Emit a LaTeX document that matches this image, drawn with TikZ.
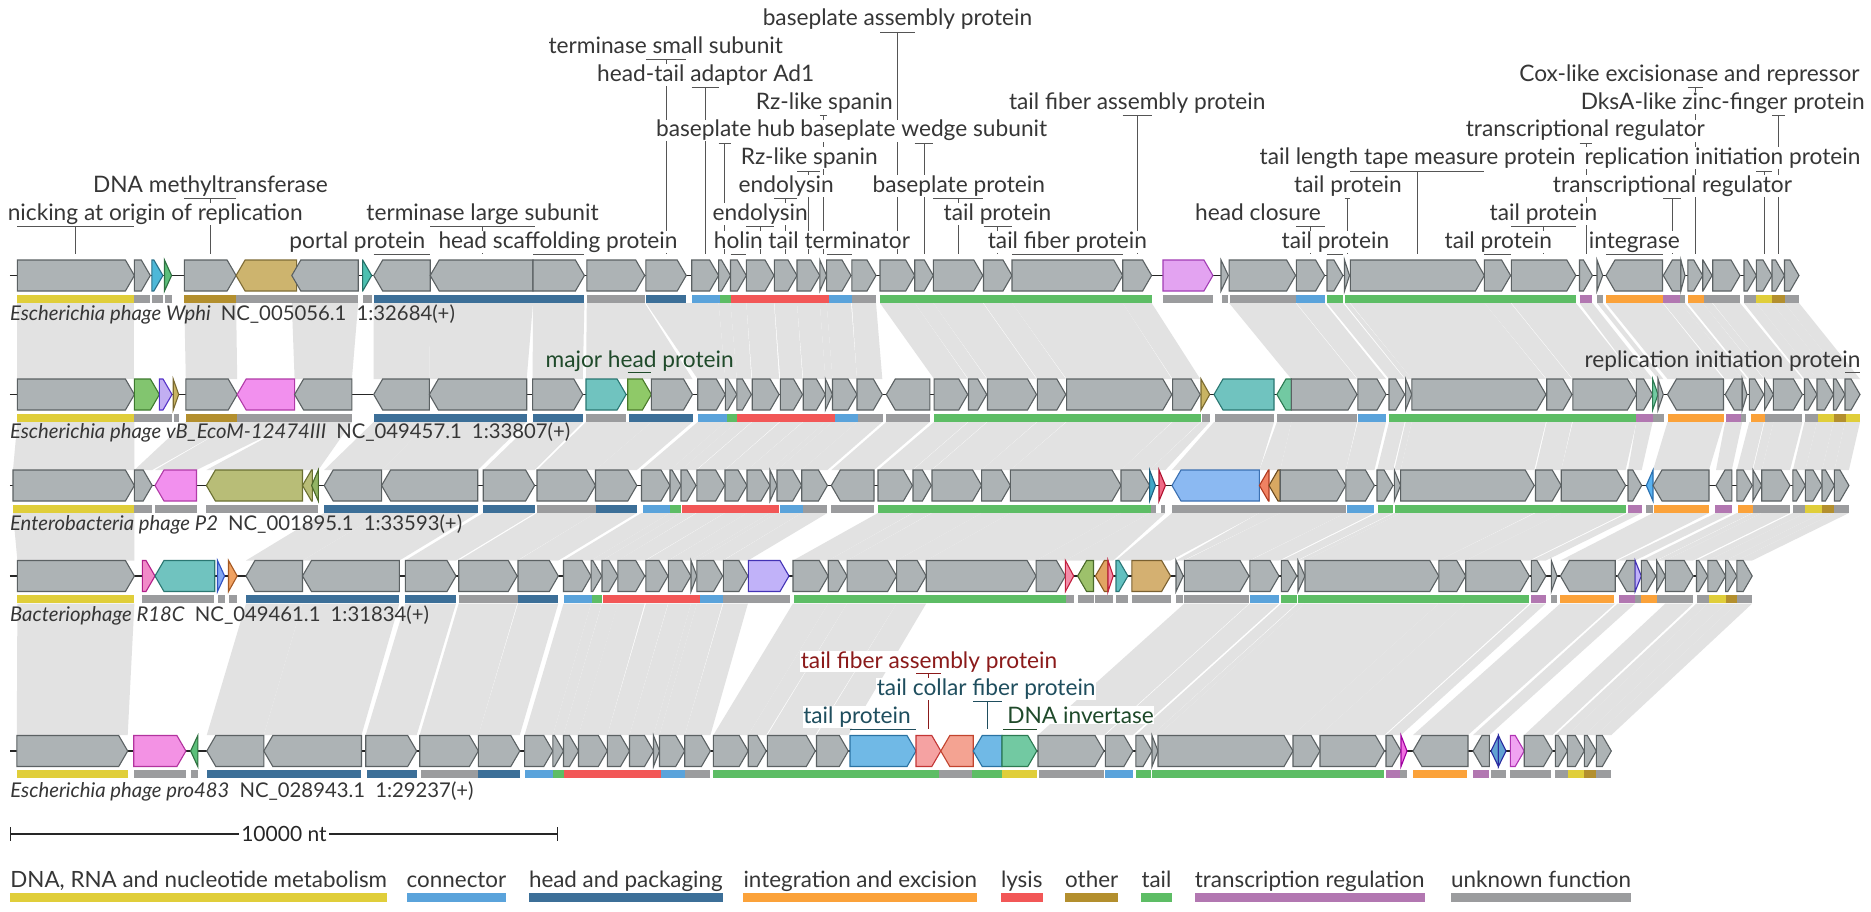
\documentclass[tikz,border=0pt]{standalone}
\usepackage{fontspec}
\setmainfont{Lato}
\usetikzlibrary{calc}
\pgfdeclarelayer{bands}
\pgfdeclarelayer{lines}
\pgfsetlayers{bands,lines,main}
\definecolor{gfill}{HTML}{ADB3B5}
\definecolor{gline}{HTML}{5B6163}
\definecolor{bandc}{HTML}{E2E2E2}
\definecolor{txt}{HTML}{363636}
\definecolor{lnc}{HTML}{555555}
\definecolor{cDNA}{HTML}{E0CE3A}
\definecolor{cCon}{HTML}{5AA3DB}
\definecolor{cHead}{HTML}{3C6F98}
\definecolor{cInt}{HTML}{FBA23A}
\definecolor{cLys}{HTML}{F25757}
\definecolor{cOth}{HTML}{B38F2E}
\definecolor{cTail}{HTML}{5DBD65}
\definecolor{cTrs}{HTML}{B277B1}
\definecolor{cUnk}{HTML}{9B9C9E}
\definecolor{tRed}{HTML}{8B1A1A}
\definecolor{tSlate}{HTML}{1F4E5E}
\definecolor{tGrn}{HTML}{1F4A2A}
\newcommand\labfont{\fontsize{22.7}{27}\selectfont}
\newcommand\spfont{\fontsize{20.3}{24}\selectfont}
\newcommand\lgfont{\fontsize{22.4}{27}\selectfont}
\newcommand\gstyle[3]{\definecolor{#1F}{HTML}{#2}\definecolor{#1D}{HTML}{#3}%
  \tikzset{#1/.style={fill=#1F,draw=#1D}}}
\gstyle{tanG}{CDB46E}{7E6C36}
\gstyle{cyanG}{4DB8D8}{2A6F88}
\gstyle{grnG}{5CBF7A}{2E7040}
\gstyle{tealG}{4CC0B0}{257068}
\gstyle{violG}{E3A3F1}{A23DB5}
\gstyle{gtwoG}{82C56F}{3D7A2E}
\gstyle{lavG}{C2AEF2}{5533C8}
\gstyle{khakiG}{C9B463}{7A6A30}
\gstyle{pinkG}{F290EE}{B13BA8}
\gstyle{tealtG}{70C3BF}{2A7772}
\gstyle{greentG}{8FC968}{4A7A2A}
\gstyle{mintG}{72C9A2}{2C7A52}
\gstyle{olivG}{B8BD77}{6A7032}
\gstyle{olivtG}{93B565}{4C6A2A}
\gstyle{tblG}{3FA8C8}{1E6080}
\gstyle{redG}{F06A86}{B0102E}
\gstyle{lblG}{8BB9F2}{3B70B2}
\gstyle{rorG}{F08262}{B03A20}
\gstyle{tantG}{D8A862}{6A4A20}
\gstyle{lbltG}{5AB2F0}{2A70B0}
\gstyle{pinkfG}{F18AC8}{B2208A}
\gstyle{bluefG}{82A8F2}{3050C2}
\gstyle{orG}{F0A262}{A55822}
\gstyle{lavfG}{C1B2F9}{4332B5}
\gstyle{pkrG}{F38CA8}{C2203F}
\gstyle{grnfG}{9DC16B}{4B6B2B}
\gstyle{orfG}{E1A463}{8A5A22}
\gstyle{tealfG}{62C1C1}{2A7777}
\gstyle{tanfG}{D4B071}{7A6030}
\gstyle{pinkvG}{F392E4}{B2339E}
\gstyle{lblvG}{70B9E6}{2A72A2}
\gstyle{salG}{F5A2A2}{C33636}
\gstyle{saltG}{F4A392}{C2442E}
\gstyle{magG}{F070E0}{A000A0}
\gstyle{diaG}{62A2D2}{2A2AA0}
\gstyle{pinksG}{F0A3F1}{B033B3}
\tikzset{
  gene/.style={fill=gfill, draw=gline, line width=1.1pt, line join=miter},
  labl/.style={draw=lnc, line width=0.9pt},
  labt/.style={fill=white, inner sep=0.6pt, text=txt, font=\labfont},
  spc/.style={inner sep=0pt, text=txt, font=\spfont},
  lgt/.style={inner sep=0pt, text=txt, font=\lgfont, anchor=base west},
  bbone/.style={draw=black!85, line width=1.2pt},
}
\newcommand\yc{0}
\newcommand\gf[3][]{\pgfmathsetmacro\gs{max(#2,#3-9)}%
  \filldraw[gene,#1] (#2,\yc-15.5) -- (\gs,\yc-15.5) -- (#3,\yc) -- (\gs,\yc+15.5) -- (#2,\yc+15.5) -- cycle;}
\newcommand\gr[3][]{\pgfmathsetmacro\gs{min(#3,#2+9)}%
  \filldraw[gene,#1] (#3,\yc-15.5) -- (\gs,\yc-15.5) -- (#2,\yc) -- (\gs,\yc+15.5) -- (#3,\yc+15.5) -- cycle;}
\newcommand\gb[3]{\fill[#1] (#2,\yc+19.2) rectangle (#3,\yc+27.2);}
\newcommand\bnd[6]{\fill[bandc] (#1,#5) -- (#2,#5) -- (#4,#6) -- (#3,#6) -- cycle;}
\newcommand\bA[4]{\bnd{#1}{#2}{#3}{#4}{303}{379}}
\newcommand\bB[4]{\bnd{#1}{#2}{#3}{#4}{422}{470}}
\newcommand\bC[4]{\bnd{#1}{#2}{#3}{#4}{513}{560.5}}
\newcommand\bD[4]{\bnd{#1}{#2}{#3}{#4}{603.5}{735}}
\newcounter{labc}
\newcommand\lab[5]{\stepcounter{labc}%
  \pgfmathsetmacro\lb{248.2-(#1-1)*27.8}%
  \pgfmathsetmacro\lly{\lb+6.2}%
  \pgfmathsetmacro\lc{(#3+#4)/2}%
  \begin{pgfonlayer}{lines}
  \draw[labl] (#3,\lly) -- (#4,\lly) (\lc,\lly) -- (\lc,254.3);
  \end{pgfonlayer}
  \node[labt,anchor=base] (lab\arabic{labc}) at (#2,\lb) {#5};}
\begin{document}
\begin{tikzpicture}[x=1pt,y=-1pt]
\useasboundingbox (0,0) rectangle (1871,912);
% ---------------- bands ----------------
\begin{pgfonlayer}{bands}
\fill[white] (0,0) rectangle (1871,912);
\bA{17.4}{134.4}{17.4}{134.4}
\bA{184.3}{236.1}{185.8}{237.2}
\bA{291.8}{358.2}{294.6}{351.9}
\bA{373.7}{430.2}{373.7}{429.4}
\bA{430.2}{533}{429.4}{526.7}
\bA{533}{584.4}{532.6}{582.8}
\bA{586.8}{644.7}{586}{692.5}
\bA{645.9}{718.6}{697.7}{725.3}
\bA{718.6}{730.5}{725.3}{736.8}
\bA{730.5}{746.3}{736.8}{751.4}
\bA{746.3}{774}{752.2}{779.1}
\bA{774.4}{797}{780.3}{802.5}
\bA{797}{819.8}{803.2}{825.4}
\bA{819.8}{826.6}{825.4}{832.5}
\bA{826.6}{851}{832.5}{857}
\bA{851.9}{876}{857}{882.3}
\bA{880}{914.7}{934.1}{967.7}
\bA{914.7}{933.3}{968.5}{986.7}
\bA{933.3}{982.8}{987.5}{1036.5}
\bA{983.5}{1012}{1037.3}{1065.8}
\bA{1012}{1122.7}{1066.6}{1171.8}
\bA{1122.7}{1151.6}{1172.6}{1200.2}
\bA{1229.1}{1295.6}{1291.4}{1357}
\bA{1296.4}{1324.6}{1357.8}{1386}
\bA{1327}{1342.9}{1389}{1404.7}
\bA{1344.5}{1349.5}{1405.6}{1411.8}
\bA{1350.3}{1484.4}{1411.8}{1545.9}
\bA{1484.4}{1510.6}{1546.7}{1572}
\bA{1511.4}{1575.8}{1572.8}{1636.4}
\bA{1579.5}{1592.4}{1636.4}{1652.6}
\bA{1597}{1602.7}{1658}{1663.3}
\bA{1606}{1662.5}{1667.5}{1723.5}
\bA{1663.3}{1680.8}{1725.2}{1742.2}
\bA{1680.8}{1685}{1742.2}{1747}
\bA{1687.8}{1702.7}{1749.3}{1763.8}
\bA{1702.7}{1712}{1764.6}{1773.4}
\bA{1712.7}{1740}{1773.4}{1802.4}
\bA{1744}{1756.3}{1804.5}{1817}
\bA{1756.3}{1772}{1817}{1833.5}
\bA{1772}{1784.5}{1833.5}{1845}
\bA{1784.5}{1799}{1845}{1860}
% 2 -> 3
\bB{17.4}{134.4}{13}{134.4}
\bB{185.8}{237.2}{134.4}{152.2}
\bB{237.2}{294.6}{155}{196.5}
\bB{294.6}{351.9}{206.4}{318.3}
\bB{373.7}{429.4}{324.2}{381.6}
\bB{429.4}{526.7}{381.6}{477.7}
\bB{532.6}{582.8}{483.2}{534.6}
\bB{586}{651.4}{537}{595.5}
\bB{651.4}{692.5}{595.5}{636.8}
\bB{697.7}{725.3}{641.5}{670}
\bB{725.3}{736.8}{670}{681}
\bB{736.8}{751.4}{681}{696}
\bB{752.2}{779.1}{696.9}{724.6}
\bB{780.3}{802.5}{725}{747}
\bB{803.2}{825.4}{747}{770}
\bB{825.4}{832.5}{770}{777}
\bB{832.5}{857}{777}{801.7}
\bB{857}{882.3}{801.7}{827.4}
\bB{886.3}{929.8}{831.3}{874}
\bB{934.1}{967.7}{878}{912.4}
\bB{968.5}{986.7}{913}{931.4}
\bB{987.5}{1036.5}{932}{981.6}
\bB{1037.3}{1065.8}{981.6}{1010.4}
\bB{1066.6}{1171.8}{1010.4}{1121}
\bB{1172.6}{1200.2}{1121}{1149.6}
\bB{1201}{1209.7}{1149.6}{1165.4}
\bB{1214}{1274}{1172}{1259.4}
\bB{1276.9}{1291.4}{1259.4}{1280.2}
\bB{1291.4}{1357}{1280.2}{1345.8}
\bB{1357.8}{1386}{1345.8}{1374.4}
\bB{1389}{1404.7}{1377}{1393}
\bB{1405.6}{1411.8}{1394.3}{1400.6}
\bB{1411.8}{1545.9}{1400.6}{1534.2}
\bB{1546.7}{1572}{1535.5}{1561.2}
\bB{1572.8}{1636.4}{1561.2}{1625.6}
\bB{1636.4}{1652.6}{1628}{1641.7}
\bB{1667.5}{1723.5}{1653}{1709}
\bB{1725.2}{1742.2}{1716}{1731.8}
\bB{1749.3}{1763.8}{1736.8}{1752.2}
\bB{1764.6}{1773.4}{1753}{1761.7}
\bB{1773.4}{1802.4}{1761.7}{1790}
\bB{1804.5}{1817}{1792.9}{1805.3}
\bB{1817}{1833.5}{1805.3}{1822}
\bB{1833.5}{1845}{1822}{1834.4}
\bB{1845}{1860}{1834.4}{1848.9}
% 3 -> 4
\bC{13}{134.4}{17.4}{134.4}
\bC{324.2}{381.6}{246}{302.5}
\bC{381.6}{477.7}{302.5}{399.4}
\bC{483.2}{534.6}{405.3}{456}
\bC{537}{595.5}{458.7}{517.2}
\bC{595.5}{636.8}{518}{558.3}
\bC{641.5}{670}{563.5}{591.1}
\bC{670}{681}{591.1}{601.8}
\bC{681}{696}{602}{618}
\bC{696.9}{724.6}{617.8}{644.7}
\bC{725}{747}{645.9}{668}
\bC{747}{770}{668.4}{691}
\bC{770}{777}{691}{696.9}
\bC{777}{801.7}{696.9}{722.6}
\bC{801.7}{827.4}{723.4}{747.9}
\bC{878}{912.4}{793}{828.2}
\bC{913}{931.4}{828.2}{847.1}
\bC{932}{981.6}{847.1}{896.6}
\bC{981.6}{1010.4}{896.6}{926.2}
\bC{1010.4}{1121}{926.2}{1036.1}
\bC{1121}{1149.6}{1036.1}{1065.4}
\bC{1149.6}{1165.4}{1065.4}{1113.2}
\bC{1172}{1259.4}{1116}{1170.6}
\bC{1259.4}{1280.2}{1176}{1183.2}
\bC{1280.2}{1345.8}{1184.4}{1249}
\bC{1345.8}{1374.4}{1249.9}{1279}
\bC{1377}{1393}{1281.4}{1296.8}
\bC{1394.3}{1400.6}{1298}{1305}
\bC{1400.6}{1534.2}{1305}{1438.8}
\bC{1535.5}{1561.2}{1438.8}{1465.7}
\bC{1561.2}{1625.6}{1465.7}{1529.3}
\bC{1628}{1641.7}{1531.3}{1545.9}
\bC{1653}{1709}{1560.4}{1615.2}
\bC{1716}{1731.8}{1617.7}{1635.1}
\bC{1736.8}{1752.2}{1641.3}{1655.9}
\bC{1753}{1761.7}{1656.7}{1665.4}
\bC{1761.7}{1790}{1665.4}{1693.2}
\bC{1792.9}{1805.3}{1696.5}{1707.8}
\bC{1805.3}{1822}{1707.8}{1725.6}
\bC{1822}{1834.4}{1725.6}{1736.8}
\bC{1834.4}{1848.9}{1736.8}{1752.2}
% 4 -> 5
\bD{17.4}{134.4}{16.8}{127.7}
\bD{246}{302.5}{206.8}{263.8}
\bD{302.5}{399.4}{263.8}{361.5}
\bD{405.3}{456}{365.7}{416.7}
\bD{458.7}{517.2}{419.7}{478.4}
\bD{518}{558.3}{478.4}{519.8}
\bD{563.5}{591.1}{524.6}{552.8}
\bD{591.1}{601.8}{552.8}{563.5}
\bD{602}{618}{563.5}{578.5}
\bD{617.8}{644.7}{578.5}{607.3}
\bD{645.9}{668}{607.3}{629.5}
\bD{668.4}{691}{629.5}{653.5}
\bD{691}{696.9}{653.5}{659.5}
\bD{696.9}{722.6}{659.5}{684.7}
\bD{723.4}{747.9}{684.7}{710.4}
\bD{793}{828.2}{713.4}{748.2}
\bD{828.2}{847.1}{748.2}{766.2}
\bD{847.1}{896.6}{767.4}{815.3}
\bD{896.6}{926.2}{816.5}{848.3}
\bD{1184.4}{1249}{1038}{1104}
\bD{1249.9}{1279}{1105.3}{1132.9}
\bD{1281.4}{1296.8}{1135.9}{1152}
\bD{1298}{1305}{1152}{1158}
\bD{1305}{1438.8}{1158}{1293}
\bD{1438.8}{1465.7}{1293}{1320}
\bD{1465.7}{1529.3}{1320}{1384.4}
\bD{1531.3}{1545.9}{1386}{1401}
\bD{1560.4}{1615.2}{1413}{1468}
\bD{1617.7}{1635.1}{1473}{1489.4}
\bD{1665.4}{1693.2}{1524.2}{1552.5}
\bD{1696.5}{1707.8}{1555.4}{1567.4}
\bD{1707.8}{1725.6}{1567.4}{1584.3}
\bD{1725.6}{1736.8}{1584.3}{1596.3}
\bD{1736.8}{1752.2}{1596.3}{1611.3}
\end{pgfonlayer}
% ---------------- row 1 ----------------
\renewcommand\yc{275.5}
\draw[bbone] (9.9,\yc) -- (1799,\yc);
\gf{17.4}{134.4}\gf{134.4}{150.3}\gf[cyanG]{151.8}{162.9}\gf[grnG]{164.5}{171.6}
\gf{184.3}{236.1}\gr[tanG]{236.1}{296.6}\gr{291.8}{358.2}\gf[tealG]{362.6}{371.7}
\gr{373.7}{430.2}\gr{430.2}{533}\gf{533}{584.4}\gf{586.8}{644.7}\gf{645.9}{686.2}
\gf{691.7}{718.6}\gf{718.6}{730.5}\gf{730.5}{746.3}\gf{746.3}{774}\gf{774.4}{797}
\gf{797}{819.8}\gf{819.8}{826.6}\gf{826.6}{851}\gf{851.9}{876}\gf{880}{914.7}
\gf{914.7}{933.3}\gf{933.3}{982.8}\gf{983.5}{1012}\gf{1012}{1122.7}\gf{1122.7}{1151.6}
\gf[violG]{1163}{1212.9}\gf{1221}{1228.3}\gf{1229.1}{1295.6}\gf{1296.4}{1324.6}
\gf{1327}{1342.9}\gf{1344.5}{1349.5}\gf{1350.3}{1484.4}\gf{1484.4}{1510.6}
\gf{1511.4}{1575.8}\gf{1579.5}{1592.4}\gf{1597}{1602.7}\gr{1606}{1662.5}
\gr{1663.3}{1680.8}\gf{1680.8}{1685}\gf{1687.8}{1702.7}\gf{1702.7}{1712}
\gf{1712.7}{1740}\gf{1744}{1756.3}\gf{1756.3}{1772}\gf{1772}{1784.5}\gf{1784.5}{1799}
\gb{cDNA}{17.4}{134.4}\gb{cUnk}{134.4}{150.3}\gb{cUnk}{151.8}{162.9}\gb{cUnk}{164.5}{171.6}
\gb{cOth}{184.3}{236.1}\gb{cUnk}{236.1}{358.2}\gb{cUnk}{362.6}{371.7}\gb{cHead}{373.7}{584.4}
\gb{cUnk}{586.8}{644.7}\gb{cHead}{645.9}{686.2}\gb{cCon}{691.7}{719.8}\gb{cTail}{719.8}{730.5}
\gb{cLys}{730.5}{828.6}\gb{cCon}{828.6}{851.9}\gb{cUnk}{851.9}{876}\gb{cTail}{880}{1152.4}
\gb{cUnk}{1163}{1212.9}\gb{cUnk}{1222}{1228.3}\gb{cUnk}{1230.4}{1295.6}\gb{cCon}{1296.4}{1324.6}
\gb{cTail}{1327.1}{1342.9}\gb{cTail}{1344.5}{1575.8}\gb{cTrs}{1579.5}{1592.4}\gb{cUnk}{1597}{1602.7}
\gb{cInt}{1606}{1662.5}\gb{cTrs}{1663.3}{1680}\gb{cUnk}{1680}{1684.9}\gb{cInt}{1688.3}{1703.6}
\gb{cUnk}{1703.6}{1740}\gb{cUnk}{1744}{1756.3}\gb{cDNA}{1756.3}{1772}\gb{cOth}{1772}{1784.5}
\gb{cUnk}{1784.5}{1799}
% labels row 1
\lab{2}{155.2}{17.4}{134.4}{nicking at origin of replication}
\lab{3}{210.4}{184.3}{236.1}{DNA methyltransferase}
\lab{1}{357.4}{373.7}{430.2}{portal protein}
\lab{2}{482.5}{430.2}{535}{terminase large subunit}
\lab{1}{558}{533}{584.4}{head scaffolding protein}
\lab{8}{665.8}{645.9}{686.2}{terminase small subunit}
\lab{7}{705.7}{691.7}{718.6}{head-tail adaptor Ad1}
\lab{5}{725.6}{718.6}{730.5}{baseplate hub}
\lab{1}{738.4}{730.5}{746.3}{holin}
\lab{2}{760.2}{746.3}{774}{endolysin}
\lab{3}{786.2}{774.4}{797}{endolysin}
\lab{4}{809.2}{797}{819.8}{Rz-like spanin}
\lab{6}{824.4}{819.8}{826.6}{Rz-like spanin}
\lab{1}{839.2}{826.6}{851.9}{tail terminator}
\lab{9}{897.5}{880}{914.7}{baseplate assembly protein}
\lab{5}{923.8}{914.7}{933.3}{baseplate wedge subunit}
\lab{3}{958.8}{933.3}{982.8}{baseplate protein}
\lab{2}{997.4}{983.5}{1012}{tail protein}
\lab{1}{1067.4}{1012}{1122.7}{tail fiber protein}
\lab{6}{1137.2}{1122.7}{1151.6}{tail fiber assembly protein}
\lab{2}{1258}{1296.4}{1324.6}{head closure}
\lab{1}{1335.4}{1327}{1342.9}{tail protein}
\lab{3}{1347.9}{1344.5}{1349.5}{tail protein}
\lab{4}{1417.6}{1350.3}{1484.4}{tail length tape measure protein}
\lab{1}{1498.3}{1484.4}{1510.6}{tail protein}
\lab{2}{1543.4}{1511.4}{1575.8}{tail protein}
\lab{5}{1585.3}{1579.5}{1592.4}{transcriptional regulator}
\lab{1}{1634.3}{1606}{1662.5}{integrase}
\lab{3}{1672.5}{1663.3}{1680.8}{transcriptional regulator}
\lab{7}{1689.5}{1687.8}{1703.4}{Cox-like excisionase and repressor}
\lab{4}{1722.5}{1756.3}{1772}{replication initiation protein}
\lab{6}{1722.7}{1772}{1784.5}{DksA-like zinc-finger protein}
\node[spc,anchor=base west] (sp1) at (9.9,320.5) {\textit{Escherichia phage Wphi}\hspace{0.5em}NC\_005056.1\hspace{0.5em}1:32684(+)};
% ---------------- row 2 ----------------
\renewcommand\yc{394.5}
\draw[bbone] (9.9,\yc) -- (1860,\yc);
\gf{17.4}{134.4}\gf[gtwoG]{134.4}{159.4}\gf[lavG]{159.4}{172}\gf[khakiG]{173.2}{178.7}
\gf{185.8}{237.2}\gr[pinkG]{237.2}{294.6}\gr{294.6}{351.9}\gr{373.7}{429.4}\gr{429.4}{526.7}
\gf{532.6}{582.8}\gf[tealtG]{586}{626.1}\gf[greentG]{627.7}{651.4}\gf{651.4}{692.5}
\gf{697.7}{725.3}\gf{725.3}{736.8}\gf{736.8}{751.4}\gf{752.2}{779.1}\gf{780.3}{802.5}
\gf{803.2}{825.4}\gf{825.4}{832.5}\gf{832.5}{857}\gf{857}{882.3}\gr{886.3}{929.8}
\gf{934.1}{967.7}\gf{968.5}{986.7}\gf{987.5}{1036.5}\gf{1037.3}{1065.8}\gf{1066.6}{1171.8}
\gf{1172.6}{1200.2}\gf[khakiG]{1201}{1209.7}\gr[tealtG]{1214}{1274}\gr[mintG]{1276.9}{1291.4}
\gf{1291.4}{1357}\gf{1357.8}{1386}\gf{1389}{1404.7}\gf{1405.6}{1411.8}\gf{1411.8}{1545.9}
\gf{1546.7}{1572}\gf{1572.8}{1636.4}\gf{1636.4}{1652.6}\gf[mintG]{1652.6}{1658}\gf{1658}{1663.3}
\gr{1667.5}{1723.5}\gr{1725.2}{1742.2}\gf{1742.2}{1747}\gf{1749.3}{1763.8}\gf{1764.6}{1773.4}
\gf{1773.4}{1802.4}\gf{1804.5}{1817}\gf{1817}{1833.5}\gf{1833.5}{1845}\gf{1845}{1860}
\gb{cDNA}{17.4}{134.4}\gb{cUnk}{134.4}{172}\gb{cUnk}{174}{178.7}\gb{cOth}{185.8}{237.2}
\gb{cUnk}{237.2}{351.9}\gb{cHead}{373.7}{526.7}\gb{cHead}{532.6}{582.8}\gb{cUnk}{586}{626}
\gb{cHead}{628.5}{692.5}\gb{cCon}{698}{726.5}\gb{cTail}{726.5}{736.8}\gb{cLys}{736.8}{834.5}
\gb{cCon}{834.5}{857.8}\gb{cUnk}{857.8}{883}\gb{cUnk}{886.3}{929.8}\gb{cTail}{934.1}{1201}
\gb{cUnk}{1201.8}{1209.7}\gb{cUnk}{1214.7}{1274}\gb{cUnk}{1276.9}{1357}\gb{cCon}{1357.8}{1386}
\gb{cTail}{1389}{1636.4}\gb{cTrs}{1636.4}{1652.6}\gb{cUnk}{1652.6}{1663.9}\gb{cInt}{1667.5}{1723.5}
\gb{cTrs}{1725.6}{1740.9}\gb{cUnk}{1740.9}{1746.3}\gb{cInt}{1750.5}{1765}\gb{cUnk}{1765}{1802.4}
\gb{cUnk}{1804.5}{1817.7}\gb{cDNA}{1817.7}{1833.5}\gb{cOth}{1833.5}{1846}\gb{cDNA}{1846}{1860}
\begin{pgfonlayer}{lines}
\draw[labl,draw=tGrn] (627.7,372.7) -- (651.4,372.7);
\draw[labl] (1845,372.7) -- (1860,372.7);
\end{pgfonlayer}
\node[labt,fill=none,text=tGrn,anchor=base] (mhp) at (639.7,367) {major head protein};
\node[labt,fill=none,anchor=base] (rip2) at (1722.5,367) {replication initiation protein};
\node[spc,anchor=base west] (sp2) at (9.9,438.3) {\textit{Escherichia phage vB\_EcoM-12474III}\hspace{0.5em}NC\_049457.1\hspace{0.5em}1:33807(+)};
% ---------------- row 3 ----------------
\renewcommand\yc{485.5}
\draw[bbone] (9.9,\yc) -- (1848.9,\yc);
\gf{13}{134.4}\gf{134.4}{152.2}\gr[pinkG]{155}{196.5}\gr[olivG]{206.4}{302.5}\gr[olivG]{302.5}{312.4}
\gr[olivtG]{311.6}{318.3}\gr{324.2}{381.6}\gr{381.6}{477.7}\gf{483.2}{534.6}\gf{537}{595.5}
\gf{595.5}{636.8}\gf{641.5}{670}\gf{670}{681}\gf{681}{696}\gf{696.9}{724.6}\gf{725}{747}
\gf{747}{770}\gf{770}{777}\gf{777}{801.7}\gf{801.7}{827.4}\gr{831.3}{874}\gf{878}{912.4}
\gf{913}{931.4}\gf{932}{981.6}\gf{981.6}{1010.4}\gf{1010.4}{1121}\gf{1121}{1149.6}
\gf[tblG]{1149.6}{1155.5}\gf[redG]{1159}{1165.4}\gr[lblG]{1172}{1259.4}\gr[rorG]{1259.4}{1269}
\gr[tantG]{1269}{1280.2}\gf{1280.2}{1345.8}\gf{1345.8}{1374.4}\gf{1377}{1393}\gf{1394.3}{1400.6}
\gf{1400.6}{1534.2}\gf{1535.5}{1561.2}\gf{1561.2}{1625.6}\gf{1628}{1641.7}\gr[lbltG]{1646.3}{1653}
\gr{1653}{1709}\gr{1716}{1731.8}\gf{1736.8}{1752.2}\gf{1753}{1761.7}\gf{1761.7}{1790}
\gf{1792.9}{1805.3}\gf{1805.3}{1822}\gf{1822}{1834.4}\gf{1834.4}{1848.9}
\gb{cDNA}{13}{134.4}\gb{cUnk}{134.4}{152.2}\gb{cUnk}{155}{196.5}\gb{cUnk}{206.4}{318.3}
\gb{cHead}{324.2}{477.7}\gb{cHead}{483.2}{534.6}\gb{cUnk}{537}{595.5}\gb{cHead}{595.5}{636.8}
\gb{cCon}{642.7}{670.4}\gb{cTail}{670.4}{681}\gb{cLys}{681.8}{779.1}\gb{cCon}{779.9}{802.5}
\gb{cUnk}{802.5}{827.4}\gb{cUnk}{831.3}{874}\gb{cTail}{878}{1150.8}\gb{cUnk}{1150.8}{1155.5}
\gb{cUnk}{1160.7}{1165.4}\gb{cUnk}{1172}{1259.4}\gb{cUnk}{1259.4}{1280.2}\gb{cUnk}{1280.2}{1345.8}
\gb{cCon}{1346.6}{1374.4}\gb{cTail}{1377.7}{1393.1}\gb{cTail}{1395.2}{1625.6}\gb{cTrs}{1628}{1641.7}
\gb{cUnk}{1646.3}{1653}\gb{cInt}{1653.9}{1709}\gb{cTrs}{1715.4}{1731.8}\gb{cInt}{1738}{1753.4}
\gb{cUnk}{1753.4}{1790}\gb{cUnk}{1792.9}{1805.3}\gb{cDNA}{1805.3}{1822}\gb{cOth}{1822}{1834.4}
\gb{cUnk}{1834.4}{1848.9}
\node[spc,anchor=base west] (sp3) at (9.9,530.4) {\textit{Enterobacteria phage P2}\hspace{0.5em}NC\_001895.1\hspace{0.5em}1:33593(+)};
% ---------------- row 4 ----------------
\renewcommand\yc{576}
\draw[bbone] (9.9,\yc) -- (1752.2,\yc);
\gf{17.4}{134.4}\gf[pinkfG]{142.3}{155}\gr[tealtG]{155}{214.7}\gf[bluefG]{217.5}{224.6}
\gf[orG]{228.5}{237.2}\gr{246}{302.5}\gr{302.5}{399.4}\gf{405.3}{456}\gf{458.7}{517.2}
\gf{518}{558.3}\gf{563.5}{591.1}\gf{591.1}{601.8}\gf{602}{618}\gf{617.8}{644.7}\gf{645.9}{668}
\gf{668.4}{691}\gf{691}{696.9}\gf{696.9}{722.6}\gf{723.4}{747.9}\gf[lavfG]{748.3}{789}
\gf{793}{828.2}\gf{828.2}{847.1}\gf{847.1}{896.6}\gf{896.6}{926.2}\gf{926.2}{1036.1}
\gf{1036.1}{1065.4}\gf[pkrG]{1065.4}{1073.7}\gr[grnfG]{1077.6}{1093.5}\gr[orfG]{1095.4}{1108}
\gf[pkrG]{1108}{1113.2}\gf[tealfG]{1116}{1127.9}\gf[tanfG]{1131.8}{1170.6}\gf{1176}{1183.2}
\gf{1184.4}{1249}\gf{1249.9}{1279}\gf{1281.4}{1296.8}\gf{1298}{1305}\gf{1305}{1438.8}
\gf{1438.8}{1465.7}\gf{1465.7}{1529.3}\gf{1531.3}{1545.9}\gf{1551.3}{1557}\gr{1560.4}{1615.2}
\gr{1617.7}{1635.1}\gf[lavfG]{1635.1}{1641.3}\gf{1641.3}{1655.9}\gf{1656.7}{1665.4}
\gf{1665.4}{1693.2}\gf{1696.5}{1707.8}\gf{1707.8}{1725.6}\gf{1725.6}{1736.8}\gf{1736.8}{1752.2}
\gb{cDNA}{17.4}{134.4}\gb{cUnk}{142.3}{214.3}\gb{cUnk}{217.5}{225.4}\gb{cUnk}{229.3}{237.2}
\gb{cHead}{246}{399.4}\gb{cHead}{405.3}{456}\gb{cUnk}{458.7}{517.6}\gb{cHead}{517.6}{558.3}
\gb{cCon}{563.5}{592}\gb{cTail}{592}{602.2}\gb{cLys}{603.2}{700}\gb{cCon}{700}{723.4}
\gb{cUnk}{723.4}{748.3}\gb{cUnk}{748.3}{789.8}\gb{cTail}{793.8}{1065.8}\gb{cUnk}{1065.8}{1073.7}
\gb{cUnk}{1077.6}{1093.5}\gb{cUnk}{1095.4}{1113.2}\gb{cUnk}{1116}{1127.9}\gb{cUnk}{1131.8}{1170.6}
\gb{cUnk}{1176}{1183.2}\gb{cUnk}{1184.4}{1249}\gb{cCon}{1249.9}{1279}\gb{cTail}{1281.4}{1296.8}
\gb{cTail}{1298}{1529.3}\gb{cTrs}{1531.3}{1545.9}\gb{cUnk}{1551.3}{1557}\gb{cInt}{1560.4}{1614.4}
\gb{cTrs}{1618.5}{1635.1}\gb{cUnk}{1635.1}{1641.3}\gb{cInt}{1641.3}{1657.1}\gb{cUnk}{1657.1}{1693.2}
\gb{cUnk}{1696.5}{1709}\gb{cDNA}{1709}{1725.6}\gb{cOth}{1725.6}{1736.8}\gb{cUnk}{1736.8}{1752.2}
\node[spc,anchor=base west] (sp4) at (9.9,621) {\textit{Bacteriophage R18C}\hspace{0.5em}NC\_049461.1\hspace{0.5em}1:31834(+)};
% ---------------- row 5 ----------------
\renewcommand\yc{751}
\draw[bbone] (10.2,\yc) -- (1611.3,\yc);
\gf{16.8}{127.7}\gf[pinkvG]{133.7}{185.9}\gr[grnG]{190.6}{197.8}\gr{206.8}{263.8}\gr{263.8}{361.5}
\gf{365.7}{416.7}\gf{419.7}{478.4}\gf{478.4}{519.8}\gf{524.6}{552.8}\gf{552.8}{563.5}
\gf{563.5}{578.5}\gf{578.5}{607.3}\gf{607.3}{629.5}\gf{629.5}{653.5}\gf{653.5}{659.5}
\gf{659.5}{684.7}\gf{684.7}{710.4}\gf{713.4}{748.2}\gf{748.2}{766.2}\gf{767.4}{815.3}
\gf{816.5}{848.3}\gf[lblvG]{850}{916}\gf[salG]{916}{940.8}\gr[saltG]{940.8}{973.2}
\gr[lblvG]{973.2}{1002}\gf[mintG]{1002}{1036.8}\gf{1038}{1104}\gf{1105.3}{1132.9}
\gf{1135.9}{1152}\gf{1152}{1158}\gf{1158}{1293}\gf{1293}{1320}\gf{1320}{1384.4}
\gf{1386}{1401}\gf[magG]{1401}{1407}\gr{1413}{1468}\gr{1473}{1489.4}\gr[diaG]{1491}{1498.4}
\gf[diaG]{1498.4}{1506}\gf[pinksG]{1510.4}{1524.2}\gf{1524.2}{1552.5}\gf{1555.4}{1567.4}
\gf{1567.4}{1584.3}\gf{1584.3}{1596.3}\gf{1596.3}{1611.3}
\gb{cDNA}{16.8}{127.7}\gb{cUnk}{133.7}{185.9}\gb{cUnk}{190.6}{197.8}\gb{cHead}{206.8}{360.9}
\gb{cHead}{366.9}{416.7}\gb{cUnk}{420.9}{478.4}\gb{cHead}{478.4}{519.8}\gb{cCon}{525.2}{552.8}
\gb{cTail}{552.8}{563.5}\gb{cLys}{563.5}{661.3}\gb{cCon}{661.3}{685.3}\gb{cUnk}{685.3}{710.4}
\gb{cTail}{713.4}{939}\gb{cUnk}{939}{972}\gb{cTail}{972}{1002}\gb{cDNA}{1002}{1036.8}
\gb{cUnk}{1039.2}{1104}\gb{cCon}{1105.3}{1132.9}\gb{cTail}{1135.9}{1150.9}\gb{cTail}{1152}{1384.4}
\gb{cTrs}{1386.2}{1400}\gb{cUnk}{1400}{1407.2}\gb{cInt}{1413.2}{1467.2}\gb{cTrs}{1473.2}{1489.4}
\gb{cUnk}{1491.2}{1506.2}\gb{cUnk}{1510.4}{1551.2}\gb{cUnk}{1555.4}{1568.2}\gb{cDNA}{1568.2}{1584.3}
\gb{cOth}{1584.3}{1596.3}\gb{cUnk}{1596.3}{1611.3}
\begin{pgfonlayer}{lines}
\draw[labl,draw=tSlate] (850,729) -- (916,729);
\draw[labl,draw=tGrn] (1003,729) -- (1037,729);
\draw[labl,draw=tSlate] (973.2,701.7) -- (1002,701.7) (987.6,701.7) -- (987.6,729);
\draw[labl,draw=tRed] (916,673.3) -- (940.8,673.3) (928.4,673.3) -- (928.4,729);
\end{pgfonlayer}
\node[labt,text=tSlate,anchor=base] (tp5) at (857,723.5) {tail protein};
\node[labt,text=tGrn,anchor=base] (dinv) at (1080.6,723.5) {DNA invertase};
\node[labt,text=tSlate,anchor=base] (tcf) at (986.2,695.7) {tail collar fiber protein};
\node[labt,text=tRed,anchor=base] (tfa5) at (929,668) {tail fiber assembly protein};
\node[spc,anchor=base west] (sp5) at (10.2,797) {\textit{Escherichia phage pro483}\hspace{0.5em}NC\_028943.1\hspace{0.5em}1:29237(+)};
% ---------------- scale bar ----------------
\coordinate (sbL) at (10.2,834);
\coordinate (sbR) at (557.6,834);
\draw[line width=1.3pt, draw=black!85] (sbL) -- (sbR) ([yshift=7pt]sbL) -- ([yshift=-7pt]sbL) ([yshift=7pt]sbR) -- ([yshift=-7pt]sbR);
\node[labt,text=black!85,inner sep=2pt,anchor=base,font=\fontsize{21}{25}\selectfont] (sbt) at (284,841) {10000 nt};
% ---------------- legend ----------------
\node[lgt] (lg1) at (10.2,887.3) {DNA, RNA and nucleotide metabolism};
\node[lgt] (lg2) at (406.5,887.3) {connector};
\node[lgt] (lg3) at (528.8,887.3) {head and packaging};
\node[lgt] (lg4) at (743.4,887.3) {integration and excision};
\node[lgt] (lg5) at (1000.8,887.3) {lysis};
\node[lgt] (lg6) at (1065,887.3) {other};
\node[lgt] (lg7) at (1141.3,887.3) {tail};
\node[lgt] (lg8) at (1194.7,887.3) {transcription regulation};
\node[lgt] (lg9) at (1451,887.3) {unknown function};
\foreach \n/\c in {1/cDNA,2/cCon,3/cHead,4/cInt,5/cLys,6/cOth,7/cTail,8/cTrs,9/cUnk}{
  \fill[\c] ([yshift=-6pt]lg\n.base west) rectangle ([yshift=-14.4pt]lg\n.base east);
}
\end{tikzpicture}
\end{document}
